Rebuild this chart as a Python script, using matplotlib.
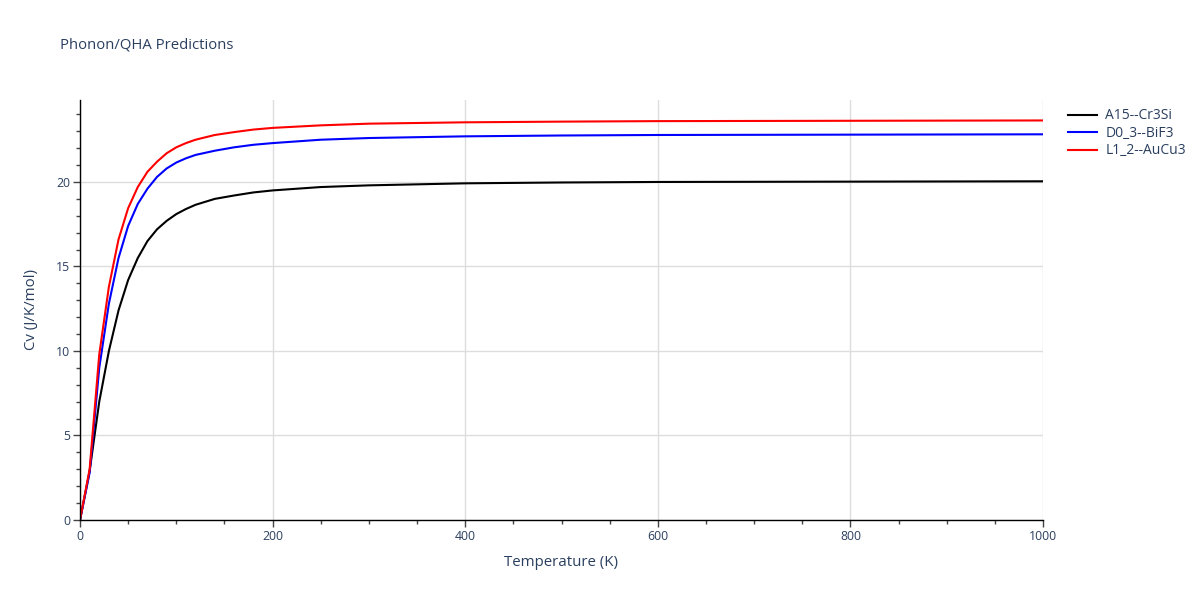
import matplotlib.pyplot as plt
from matplotlib.ticker import MultipleLocator

plt.rcParams['font.family'] = ['Open Sans', 'DejaVu Sans']

# temperatures (K) and heat capacity (J/K/mol)
temps = [0, 10, 20, 30, 40, 50, 60, 70, 80, 90, 100, 110, 120, 140, 160, 180,
         200, 250, 300, 400, 500, 600, 800, 1000]
cv_a15 = [0, 2.9, 7.0, 10.0, 12.4, 14.2, 15.5, 16.5, 17.2, 17.7, 18.1, 18.4,
          18.65, 19.0, 19.2, 19.38, 19.5, 19.7, 19.8, 19.92, 19.97, 20.0, 20.02, 20.04]
cv_d03 = [0, 2.8, 9.0, 12.8, 15.5, 17.4, 18.7, 19.6, 20.3, 20.8, 21.15, 21.4,
          21.6, 21.85, 22.05, 22.2, 22.3, 22.5, 22.6, 22.7, 22.75, 22.78, 22.8, 22.82]
cv_l12 = [0, 3.0, 9.8, 13.8, 16.6, 18.45, 19.7, 20.6, 21.2, 21.7, 22.05, 22.3,
          22.5, 22.78, 22.95, 23.1, 23.2, 23.35, 23.45, 23.53, 23.57, 23.6, 23.62, 23.64]

labels = ['A15--Cr3Si', 'D0_3--BiF3', 'L1_2--AuCu3']
colors = ['black', 'blue', 'red']

text_col = '#2a3f5f'
axis_col = '#444444'

fig = plt.figure(figsize=(12, 6), dpi=100)
ax = fig.add_axes([80 / 1200, 80 / 600, 963 / 1200, 420 / 600])

for y, lab, c in zip([cv_a15, cv_d03, cv_l12], labels, colors):
    ax.plot(temps, y, color=c, lw=1.5, label=lab)

ax.set_xlim(0, 1000)
ax.set_ylim(0, 24.85)
ax.xaxis.set_major_locator(MultipleLocator(200))
ax.xaxis.set_minor_locator(MultipleLocator(50))
ax.yaxis.set_major_locator(MultipleLocator(5))
ax.yaxis.set_minor_locator(MultipleLocator(1))
ax.grid(True, which='major', color='#dddddd', lw=1)
ax.set_axisbelow(True)

for s in ['top', 'right']:
    ax.spines[s].set_visible(False)
for s in ['left', 'bottom']:
    ax.spines[s].set_color('black')
    ax.spines[s].set_linewidth(1)

ax.tick_params(which='major', length=5, width=1, color=axis_col,
               labelcolor=text_col, labelsize=8.8, pad=2)
ax.tick_params(which='minor', length=3, width=1, color=axis_col)

ax.set_xlabel('Temperature (K)', color=text_col, fontsize=10.8, labelpad=9)
ax.set_ylabel('Cv (J/K/mol)', color=text_col, fontsize=10.8, labelpad=12)

fig.text(60 / 1200, 1 - 45 / 600, 'Phonon/QHA Predictions', color=text_col,
         fontsize=10.7, va='center', ha='left')

leg = ax.legend(loc='upper left', bbox_to_anchor=(1.02, 0.993), frameon=False,
                fontsize=10, handlelength=2.1, handletextpad=0.6,
                labelspacing=0.18, borderaxespad=0)
for t in leg.get_texts():
    t.set_color(text_col)

fig.savefig('out.png', dpi=100)
